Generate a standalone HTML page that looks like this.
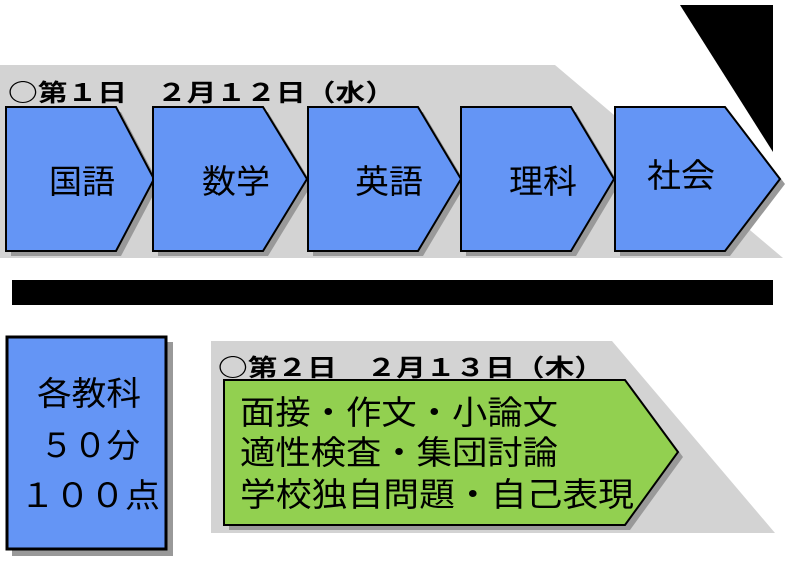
<!DOCTYPE html>
<html><head><meta charset="utf-8"><style>
body{margin:0;background:#fff;width:787px;height:567px;overflow:hidden}
svg text{font-family:"Noto Sans CJK JP","Liberation Sans",sans-serif;fill:#000}
</style></head><body>
<svg width="787" height="567" viewBox="0 0 787 567" xmlns="http://www.w3.org/2000/svg">
<polygon points="680,5 773,5 773,152" fill="#000"/>
<polygon points="0,65 555,65 783,258 0,258" fill="#d3d3d3"/>
<text x="8" y="101" font-size="24" font-weight="bold" textLength="387" lengthAdjust="spacingAndGlyphs">○第１日　２月１２日（水）</text>
<g fill="#999">
<polygon points="11,112 121,112 159,184 121,256 11,256"/>
<polygon points="158,112 268,112 312,184 268,256 158,256"/>
<polygon points="313,112 423,112 466,184 423,256 313,256"/>
<polygon points="466,112 576,112 619,184 576,256 466,256"/>
<polygon points="620,112 730,112 785,184 730,256 620,256"/>
</g>
<g fill="#6495f5" stroke="#000" stroke-width="2">
<polygon points="6,107 116,107 154,179 116,251 6,251"/>
<polygon points="153,107 263,107 307,179 263,251 153,251"/>
<polygon points="308,107 418,107 461,179 418,251 308,251"/>
<polygon points="461,107 571,107 614,179 571,251 461,251"/>
<polygon points="615,107 725,107 780,179 725,251 615,251"/>
</g>
<g font-size="33">
<text x="49" y="193" textLength="66" lengthAdjust="spacingAndGlyphs">国語</text>
<text x="202" y="193" textLength="68" lengthAdjust="spacingAndGlyphs">数学</text>
<text x="355" y="193" textLength="68" lengthAdjust="spacingAndGlyphs">英語</text>
<text x="509" y="193" textLength="68" lengthAdjust="spacingAndGlyphs">理科</text>
<text x="647" y="187" textLength="68" lengthAdjust="spacingAndGlyphs">社会</text>
</g>
<rect x="12" y="280" width="761" height="25" fill="#000"/>
<rect x="12" y="342" width="161" height="214" fill="#999"/>
<rect x="7" y="337" width="159" height="212" fill="#6495f5" stroke="#000" stroke-width="3"/>
<g font-size="33">
<text x="37" y="405" textLength="104" lengthAdjust="spacingAndGlyphs">各教科</text>
<text x="40" y="457" textLength="100" lengthAdjust="spacingAndGlyphs">５０分</text>
<text x="20" y="507" textLength="140" lengthAdjust="spacingAndGlyphs">１００点</text>
</g>
<polygon points="211,341 612,341 775,533 211,533" fill="#d3d3d3"/>
<text x="218" y="376" font-size="24" font-weight="bold" textLength="386" lengthAdjust="spacingAndGlyphs">○第２日　２月１３日（木）</text>
<polygon points="229,385 630,385 683,457 630,530 229,530" fill="#999"/>
<polygon points="224,380 625,380 678,452 625,525 224,525" fill="#92d050" stroke="#000" stroke-width="2"/>
<g font-size="33">
<text x="240" y="424" textLength="318" lengthAdjust="spacingAndGlyphs">面接・作文・小論文</text>
<text x="240" y="464" textLength="318" lengthAdjust="spacingAndGlyphs">適性検査・集団討論</text>
<text x="240" y="506" textLength="394" lengthAdjust="spacingAndGlyphs">学校独自問題・自己表現</text>
</g>
</svg>
</body></html>
